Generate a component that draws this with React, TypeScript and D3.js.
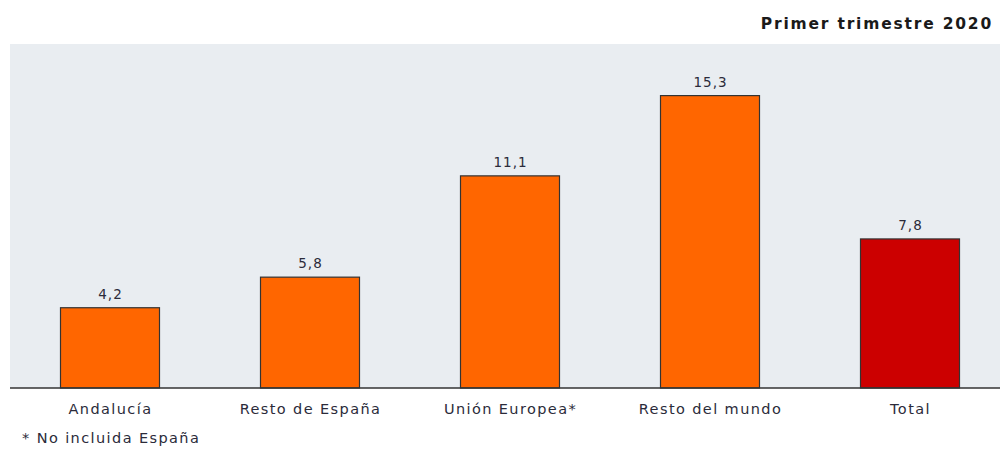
import React from "react";
import * as d3 from "d3";

const categories = ["Andalucía", "Resto de España", "Unión Europea*", "Resto del mundo", "Total"];
const values = [4.2, 5.8, 11.1, 15.3, 7.8];
const barColors = ["#FF6600", "#FF6600", "#FF6600", "#FF6600", "#CC0000"];
const title = "Primer trimestre 2020";
const footnote = "* No incluida España";

const W = 1000;
const H = 449;
const plot = { left: 10, right: 1010, top: 44, bottom: 388 };

export default function App() {
  const x = d3
    .scaleBand<string>()
    .domain(categories)
    .range([plot.left + 0.5, plot.right + 0.5])
    .paddingInner(0.5)
    .paddingOuter(0.25);
  const y = d3.scaleLinear().domain([0, 18]).range([plot.bottom, plot.top]);
  const fmt = (v: number) => v.toFixed(1).replace(".", ",");
  const font = "'DejaVu Sans', Verdana, sans-serif";
  const textColor = "#2b2b3a";

  return (
    <svg
      width={W}
      height={H}
      style={{ position: "absolute", left: 0, top: 0, background: "#fff" }}
      fontFamily={font}
    >
      <rect x={plot.left} y={plot.top} width={plot.right - plot.left} height={plot.bottom - plot.top} fill="#E9EDF1" />
      {categories.map((c, i) => (
        <g key={c}>
          <rect
            x={x(c)!}
            y={y(values[i])}
            width={x.bandwidth() - 1}
            height={y(0) - y(values[i])}
            fill={barColors[i]}
            stroke="#333"
            strokeWidth={1.2}
          />
          <text
            x={x(c)! + x.bandwidth() / 2}
            y={y(values[i]) - 9}
            textAnchor="middle"
            fontSize={13.5}
            letterSpacing={1}
            fill={textColor}
          >
            {fmt(values[i])}
          </text>
          <text
            x={x(c)! + x.bandwidth() / 2}
            y={414}
            textAnchor="middle"
            fontSize={14.5}
            letterSpacing={1.4}
            fill={textColor}
          >
            {c}
          </text>
        </g>
      ))}
      <line x1={plot.left} x2={W} y1={plot.bottom} y2={plot.bottom} stroke="#333" strokeWidth={1.5} />
      <text x={993} y={29} textAnchor="end" fontSize={15.5} fontWeight="bold" letterSpacing={1.8} fill="#1a1a1a">
        {title}
      </text>
      <text x={22} y={443} fontSize={14.5} letterSpacing={1.4} fill={textColor}>
        {footnote}
      </text>
    </svg>
  );
}
